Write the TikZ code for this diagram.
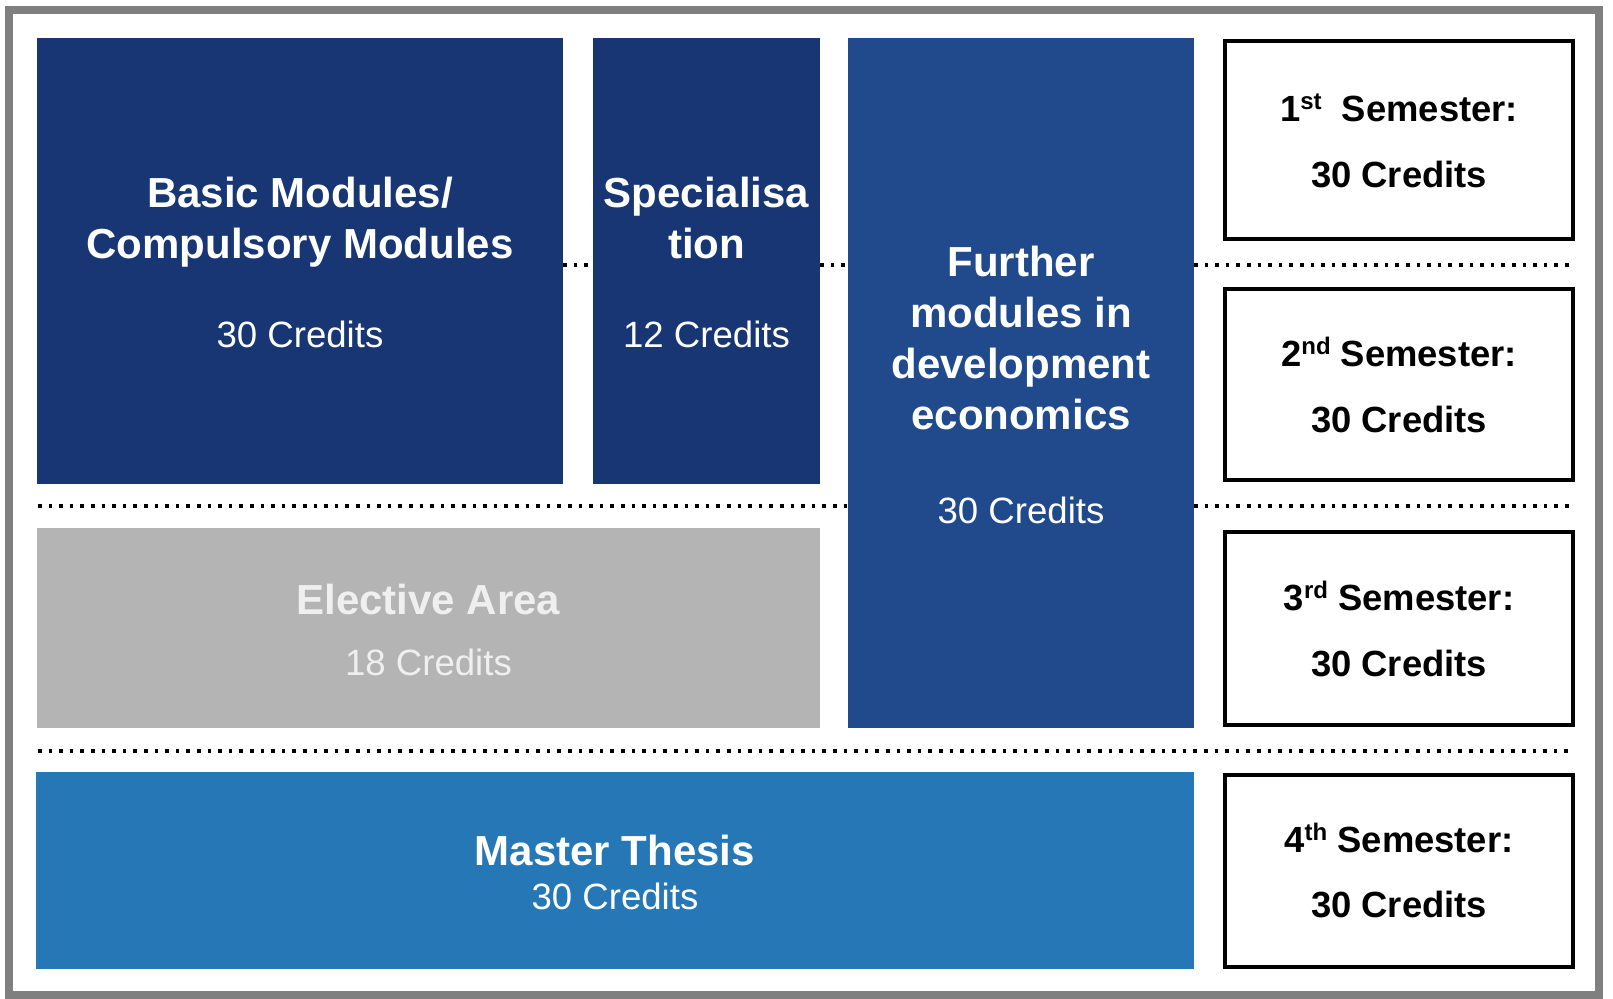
\documentclass[tikz,border=0pt]{standalone}
\usepackage{fontspec}
\setmainfont{Liberation Sans}
\definecolor{navy}{HTML}{173673}
\definecolor{midblue}{HTML}{204A8C}
\definecolor{thesisblue}{HTML}{2677B6}
\definecolor{elgray}{HTML}{B4B4B4}
\definecolor{frgray}{HTML}{7F7F7F}
\definecolor{eltext}{HTML}{EFEFEF}
\newcommand{\supx}[1]{\raisebox{0.62ex}{\fontsize{12pt}{12pt}\selectfont #1}}
\tikzset{
  blk/.style={inner sep=0pt, outer sep=0pt, draw=none},
  sembox/.style={draw=black, line width=2.2pt, fill=white, inner sep=0pt, outer sep=0pt,
    minimum width=174pt},
  frame/.style={draw=frgray, line width=4pt, inner sep=0pt, outer sep=0pt},
  ttl/.style={inner sep=0pt, align=center, text=white, font=\fontsize{21pt}{25.5pt}\selectfont\bfseries},
  cred/.style={inner sep=0pt, align=center, text=white, font=\fontsize{18.3pt}{22pt}\selectfont},
  semt/.style={inner sep=0pt, align=center, text=black, font=\fontsize{18.2pt}{22pt}\selectfont\bfseries},
  dotline/.style={draw=black, line width=1.8pt, dash pattern=on 1.8pt off 3.5pt}
}
\begin{document}
\begin{tikzpicture}[x=0.5pt,y=-0.5pt]
\useasboundingbox (0,0) rectangle (1613,999);
\node[frame, minimum width=795pt, minimum height=492.5pt] (frm) at (804,502.5) {};

% boxes
\node[blk, fill=navy, minimum width=263pt, minimum height=223pt] (basic) at (300,261) {};
\node[blk, fill=navy, minimum width=113.5pt, minimum height=223pt] (spec) at (706.5,261) {};
\node[blk, fill=midblue, minimum width=173pt, minimum height=345pt] (further) at (1021,383) {};
\node[blk, fill=elgray, minimum width=391.5pt, minimum height=100pt] (elective) at (428.5,628) {};
\node[blk, fill=thesisblue, minimum width=579pt, minimum height=98.5pt] (thesis) at (615,870.5) {};

\node[sembox, minimum height=99pt] (s1) at (1399,140) {};
\node[sembox, minimum height=95.5pt] (s2) at (1399,384.5) {};
\node[sembox, minimum height=96.5pt] (s3) at (1399,628.5) {};
\node[sembox, minimum height=96pt] (s4) at (1399,871) {};

% texts
\node[ttl] (basicT) at (300,222) {Basic Modules/\\Compulsory Modules};
\node[cred] (basicC) at (300,334) {30 Credits};
\node[ttl] (specT) at (706.5,218) {Specialisa\\tion};
\node[cred] (specC) at (706.5,334) {12 Credits};
\node[ttl] (furtherT) at (1021,338) {Further\\modules in\\development\\economics};
\node[cred] (furtherC) at (1021,510) {30 Credits};
\node[ttl, text=eltext] (electT) at (428.5,599) {Elective Area};
\node[cred, text=eltext] (electC) at (428.5,662) {18 Credits};
\node[ttl] (thesisT) at (615,850) {Master Thesis};
\node[cred] (thesisC) at (615,896) {30 Credits};

\node[semt] (s1T) at (1399,108) {1\supx{st}~ Semester:};
\node[semt] (s1C) at (1399,175) {30 Credits};
\node[semt] (s2T) at (1399,352) {2\supx{nd} Semester:};
\node[semt] (s2C) at (1399,420) {30 Credits};
\node[semt] (s3T) at (1399,596) {3\supx{rd} Semester:};
\node[semt] (s3C) at (1399,664) {30 Credits};
\node[semt] (s4T) at (1399,838) {4\supx{th} Semester:};
\node[semt] (s4C) at (1399,905) {30 Credits};

% dotted separators
\coordinate (l1) at (0,265);
\coordinate (l1end) at (1572,265);
\coordinate (l2start) at (38,506);
\coordinate (l2end) at (1572,506);
\coordinate (l3start) at (38,751);
\coordinate (l3end) at (1572,751);
\draw[dotline] (basic.east |- l1) -- (spec.west |- l1);
\draw[dotline] (spec.east |- l1) -- (further.west |- l1);
\draw[dotline] (further.east |- l1) -- (l1end);
\draw[dotline] (l2start) -- (further.west |- l2start);
\draw[dotline] (further.east |- l2start) -- (l2end);
\draw[dotline] (l3start) -- (l3end);
\end{tikzpicture}
\end{document}
